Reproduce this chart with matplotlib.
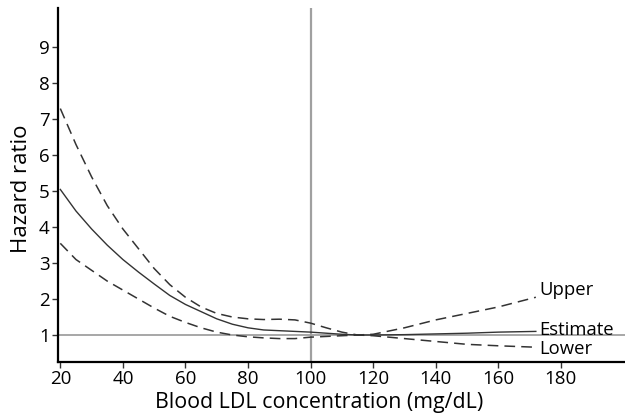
import matplotlib
matplotlib.use("Agg")
import matplotlib.pyplot as plt

plt.rcParams['font.family'] = ['Open Sans', 'DejaVu Sans']

# LDL concentration (mg/dL) and spline estimates
ldl = [20, 25, 30, 35, 40, 45, 50, 55, 60, 65, 70, 75, 80, 85, 90, 95,
       100, 105, 110, 115, 120, 130, 140, 150, 160, 172]
estimate = [5.05, 4.45, 3.95, 3.5, 3.1, 2.75, 2.42, 2.1, 1.85, 1.65, 1.45, 1.3,
            1.2, 1.14, 1.12, 1.1, 1.08, 1.05, 1.02, 1.0, 1.0, 1.01, 1.03, 1.05,
            1.08, 1.1]
upper = [7.3, 6.3, 5.4, 4.6, 3.95, 3.4, 2.85, 2.4, 2.05, 1.78, 1.6, 1.5,
         1.45, 1.43, 1.44, 1.42, 1.33, 1.2, 1.08, 1.0, 1.02, 1.2, 1.42, 1.6,
         1.78, 2.05]
lower = [3.55, 3.1, 2.8, 2.5, 2.25, 2.0, 1.75, 1.52, 1.35, 1.2, 1.08, 1.0,
         0.95, 0.92, 0.9, 0.9, 0.94, 0.96, 0.98, 1.0, 0.98, 0.9, 0.82, 0.74,
         0.7, 0.66]

xticks = [20, 40, 60, 80, 100, 120, 140, 160, 180]
yticks = [1, 2, 3, 4, 5, 6, 7, 8, 9]

fig = plt.figure(figsize=(6.25, 4.17), dpi=100)
ax = fig.add_axes([0.093, 0.132, 0.907, 0.849])

# reference lines
ax.axhline(1, color='#a0a0a0', lw=1.3, zorder=1)
ax.axvline(100, color='#a0a0a0', lw=1.6, zorder=1)

line_col = '#333333'
ax.plot(ldl, estimate, color=line_col, lw=1.0)
ax.plot(ldl, upper, color=line_col, lw=1.1, dashes=(7, 4))
ax.plot(ldl, lower, color=line_col, lw=1.1, dashes=(7, 4))

ax.text(173, upper[-1] + 0.2, 'Upper', fontsize=13.3, va='center', ha='left')
ax.text(173, estimate[-1] + 0.05, 'Estimate', fontsize=13.3, va='center', ha='left')
ax.text(173, lower[-1] - 0.05, 'Lower', fontsize=13.3, va='center', ha='left')

ax.set_xlim(19.3, 200.5)
ax.set_ylim(0.25, 10.1)
ax.set_xticks(xticks)
ax.set_yticks(yticks)
ax.tick_params(labelsize=13.5, length=4, width=1, color='#333333', pad=2)

for s in ['top', 'right']:
    ax.spines[s].set_visible(False)
for s in ['left', 'bottom']:
    ax.spines[s].set_linewidth(1.6)

ax.set_xlabel('Blood LDL concentration (mg/dL)', fontsize=15.4, labelpad=2)
ax.xaxis.set_label_coords(0.46, -0.085)
ax.set_ylabel('Hazard ratio', fontsize=16, labelpad=4)
ax.yaxis.set_label_coords(-0.046, 0.49)

fig.savefig('out.png', dpi=100)
